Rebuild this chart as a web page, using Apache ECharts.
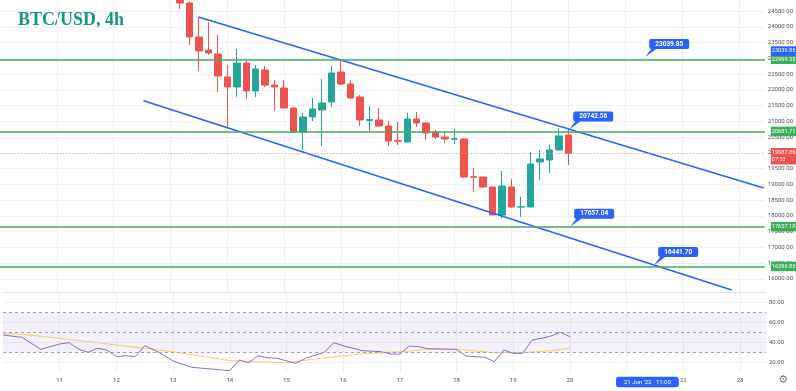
<!DOCTYPE html>
<html><head><meta charset="utf-8">
<script src="https://cdn.jsdelivr.net/npm/echarts@6/dist/echarts.min.js"></script>
<style>html,body{margin:0;padding:0;background:#fff}#c{width:796px;height:391px}</style>
</head><body><div id="c"></div>
<script>
// x unit: 4h slot counted from 10 Jun 2022 00:00 (6 slots per day)
const candleSlots = [19,20,21,22,23,24,25,26,27,28,29,30,31,32,33,34,35,36,37,38,39,40,41,42,43,44,45,46,47,48,49,50,51,52,53,54,55,56,57,58,59,60];
const opens  = [24900,24754,23676,23263,23136,22407,22090,22851,21963,22629,22153,22058,21424,20663,21138,21360,21614,22565,22185,21773,21030,21043,20853,20390,20345,21075,20948,20663,20504,20435,20440,19240,19235,18918,18030,18918,18280,18284,19711,19774,20092,20567];
const closes = [24754,23676,23232,23168,22439,22090,22851,21963,22661,22153,22090,21424,20663,21138,21392,21582,22534,22185,21741,21043,21060,20853,20377,20370,21075,20948,20631,20504,20440,20450,19235,19225,18918,18030,18950,18284,18295,19647,19806,20092,20536,19987.86];
const lows   = [24564,23422,22597,23105,21931,20821,21773,21709,21773,22090,21329,21424,20631,20092,21011,20219,21455,22153,21709,20853,20694,20821,20219,20250,20345,20821,20409,20440,20314,20282,19204,18759,18910,18020,17930,18270,17966,18270,19140,19362,20080,19616];
const highs  = [25200,24800,24310,24151,23739,22787,23295,22946,22787,22756,22312,22312,21440,21265,21741,22343,22756,22914,22312,21836,21487,21424,21011,20980,21265,21297,20960,20726,20663,20758,20450,19520,19240,18930,19425,19172,18601,20028,20092,20250,20789,20742.56];

// descending channel (two anchor points each)
const upperChannel = [[20.95, 24310], [80.63, 18889]];
const lowerChannel = [[15.16, 21651], [77.26, 15651]];

// horizontal levels and notes
const greenLevels = [22969.55, 20681.71, 17657.18, 16396.85];
const selectedLevel = 23039.85;
const lastPrice = 19987.86;
const lastPriceTimer = '07:33';
const notes = [[68.12, 23039.85], [60.1, 20742.56], [60.2, 17657.04], [69.07, 16441.70]];

// RSI pane
const rsiSlots   = [0,2,4,6,7,8,9,10,11,12,13,14,15,16,17,18,20,24,25,26,27,28,29,31,32,34,35,36,38,40,41,42,43,44,45,48,49,51,52,53,54,55,56,57,58,59,60];
const rsiValues  = [47.7,45.4,33.4,38.7,40,33.4,30.4,34.4,32.7,26,27,26,37,32.7,27.7,21.7,15.4,12,22.7,20,27,25,24.4,19.3,24.4,30.4,40,37,32,31,28.7,28.7,36.7,36,34,33.4,26.7,25.4,21,32.7,29.4,29.4,42.7,44.4,46.7,50.4,46];
const maSlots    = [0,2,6,12,18,24,30,35,39,40,42,45,48,52,55,58,60];
const maValues   = [49.4,48.4,44.4,37.7,31,22,20,26,29.4,30,31,33.4,33.4,30,30,32,34.4];
const rsiLevels  = [70, 50, 30];

const xTitle = 'BTC/USD, 4h';
const crosshairSlot = 68.2;
const crosshairLabel = "21 Jun '22   11:00";

const GREEN = '#26a69a', RED = '#ef5350', BLUE = '#2962ff', LEVEL = '#3fae5a';
const FONT = 'Roboto';
const candleData = candleSlots.map((s, i) => [s, opens[i], closes[i], lows[i], highs[i]]);
const zip = (a, b) => a.map((v, i) => [v, b[i]]);

const calloutPath = 'path://M6,0 H42 Q44,0 44,2 V8 Q44,10 42,10 H11 L0,18 L6,10 Q4,10 4,8 V2 Q4,0 6,0 Z';

const levelLabel = (bg, text, offset) => ({
  show: true, position: 'end', distance: 6, formatter: text,
  backgroundColor: bg, color: '#fff', fontSize: 5.6, fontFamily: FONT,
  padding: [1.5, 1, 1, 1], lineHeight: 7, offset: offset || [0, 0]
});

const xBase = {
  type: 'value', min: 0, max: 80.75, interval: 6,
  axisLine: { show: false }, axisTick: { show: false },
  splitLine: { show: true, showMinLine: false, showMaxLine: false, lineStyle: { color: '#eef0f4', width: 1 } }
};

const option = {
  animation: false,
  backgroundColor: '#ffffff',
  graphic: [
    { type: 'text', left: 18, top: 11, style: { text: xTitle, fill: '#0f9981', font: 'bold 18px "Liberation Serif"' } },
    { type: 'text', right: 8, top: 375, style: { text: '⚙', fill: '#787b86', font: '11px "DejaVu Sans"' } }
  ],
  grid: [
    { left: 0, right: 30, top: 0, height: 294.76 },
    { left: 0, right: 30, top: 292.7, height: 80 }
  ],
  xAxis: [
    Object.assign({}, xBase, { gridIndex: 0, axisLabel: { show: false } }),
    Object.assign({}, xBase, {
      gridIndex: 1,
      axisLabel: {
        show: true, margin: 5, fontSize: 6, fontFamily: FONT, color: '#50535e',
        formatter: v => { if (v % 6 !== 0) return ''; const d = 10 + v / 6; return (d === 21 || d === 10) ? '' : String(d); }
      },
      axisPointer: {
        show: true, type: 'none', value: crosshairSlot, status: 'show', triggerTooltip: false,
        label: { show: true, formatter: crosshairLabel, backgroundColor: BLUE, color: '#fff', fontSize: 6, fontFamily: FONT, padding: [2.5, 8, 2, 8], margin: 4 },
        handle: { show: false }
      }
    }),
    { type: 'value', gridIndex: 1, position: 'top', min: 0, max: 80.75, axisLine: { show: true, lineStyle: { color: '#e0e3eb', width: 1 } }, axisTick: { show: false }, axisLabel: { show: false }, splitLine: { show: false } }
  ],
  yAxis: [
    {
      type: 'value', gridIndex: 0, position: 'right', min: 15500, max: 24849, interval: 500,
      axisLine: { show: false }, axisTick: { show: false },
      axisLabel: { margin: 3, fontSize: 6, fontFamily: FONT, color: '#50535e', formatter: v => (v < 16000 || v > 24500 || v % 500 !== 0) ? '' : v.toFixed(2) },
      splitLine: { show: true, showMinLine: false, showMaxLine: false, lineStyle: { color: '#eef0f4' } }
    },
    {
      type: 'value', gridIndex: 1, position: 'right', min: 10, max: 90, interval: 10,
      axisLine: { show: false }, axisTick: { show: false },
      axisLabel: { margin: 3, fontSize: 6, fontFamily: FONT, color: '#50535e', formatter: v => (v % 20 === 0) ? v.toFixed(2) : '' },
      splitLine: { show: true, showMinLine: false, showMaxLine: false, lineStyle: { color: ['#eef0f4', 'rgba(0,0,0,0)'] } }
    }
  ],
  series: [
    {
      type: 'candlestick', xAxisIndex: 0, yAxisIndex: 0,
      dimensions: ['t', 'open', 'close', 'lowest', 'highest'],
      encode: { x: 't', y: ['open', 'close', 'lowest', 'highest'] },
      data: candleData, barWidth: 7,
      itemStyle: { color: GREEN, color0: RED, borderColor: GREEN, borderColor0: RED, borderWidth: 1 },
      markLine: {
        silent: true, symbol: ['none', 'none'], animation: false,
        data: [
          ...greenLevels.map(v => ({ yAxis: v, lineStyle: { color: LEVEL, width: 1.5, type: 'solid' }, label: levelLabel(LEVEL, v.toFixed(2)) })),
          { yAxis: lastPrice, lineStyle: { color: '#f4a3a2', width: 1, type: [1, 2] }, label: levelLabel(RED, lastPrice.toFixed(2) + '\n' + lastPriceTimer, [0, 3]) },
          { yAxis: selectedLevel, lineStyle: { color: 'rgba(0,0,0,0)', width: 0 }, label: levelLabel(BLUE, selectedLevel.toFixed(2), [0, -6]) }
        ]
      }
    },
    {
      type: 'line', xAxisIndex: 0, yAxisIndex: 0, data: upperChannel, symbol: 'none',
      lineStyle: { color: BLUE, width: 1.5 }, clip: true, z: 3,
      markPoint: {
        silent: true, symbol: calloutPath, symbolSize: [44, 18], symbolKeepAspect: false, symbolOffset: [22, -9],
        itemStyle: { color: BLUE },
        label: { show: true, position: 'inside', offset: [2, -4], color: '#fff', fontSize: 6.5, fontWeight: 'bold', fontFamily: FONT, formatter: p => p.data.coord[1].toFixed(2) },
        data: notes.map(n => ({ coord: n }))
      }
    },
    {
      type: 'line', xAxisIndex: 0, yAxisIndex: 0, data: lowerChannel, symbol: 'none',
      lineStyle: { color: BLUE, width: 1.5 }, clip: true, z: 3
    },
    {
      type: 'line', xAxisIndex: 1, yAxisIndex: 1, data: zip(maSlots, maValues), symbol: 'none',
      lineStyle: { color: '#f5d25e', width: 1 }, z: 3
    },
    {
      type: 'line', xAxisIndex: 1, yAxisIndex: 1, data: zip(rsiSlots, rsiValues), symbol: 'none',
      lineStyle: { color: '#8e6fcf', width: 1 }, z: 4,
      markArea: { silent: true, itemStyle: { color: 'rgba(126,87,194,0.09)' }, data: [[{ yAxis: 30 }, { yAxis: 70 }]] },
      markLine: {
        silent: true, symbol: ['none', 'none'], label: { show: false },
        lineStyle: { color: '#a6a1b8', width: 1, type: [3, 3] },
        data: rsiLevels.map(v => ({ yAxis: v }))
      }
    }
  ]
};
const chart = echarts.init(document.getElementById('c'), null, { renderer: 'canvas' });
chart.setOption(option);
</script></body></html>
